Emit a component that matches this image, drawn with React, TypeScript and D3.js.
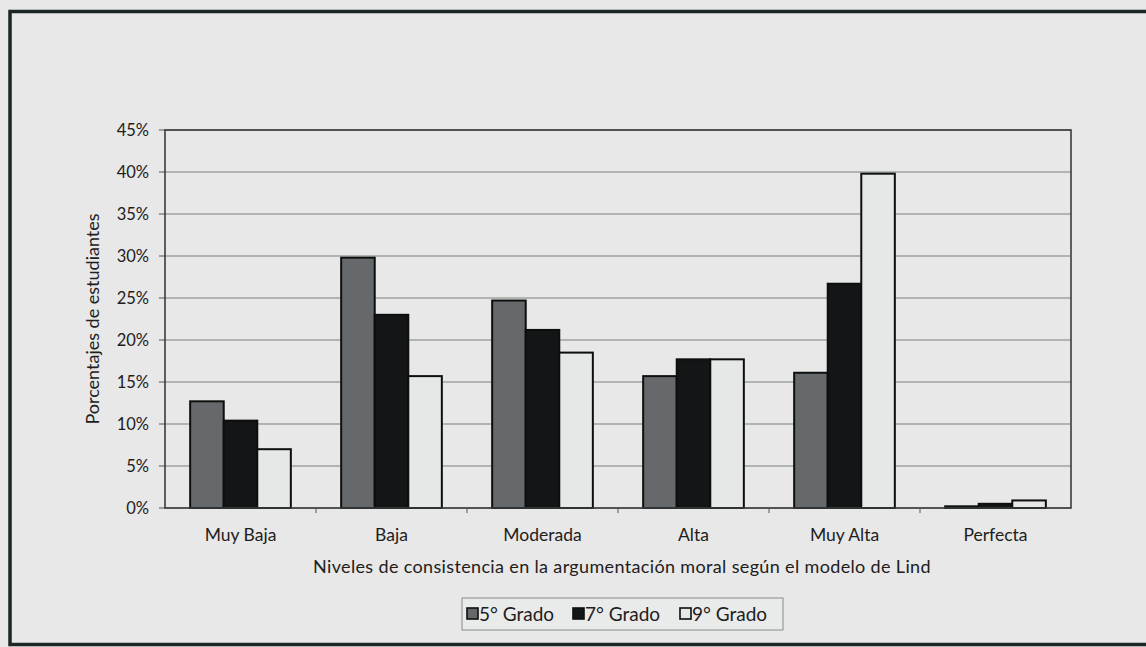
import React from "react";
import * as d3 from "d3";

// Niveles de consistencia (Lind) por grado, en porcentaje de estudiantes
const categories = ["Muy Baja", "Baja", "Moderada", "Alta", "Muy Alta", "Perfecta"];
const grado5 = [12.7, 29.8, 24.7, 15.7, 16.1, 0.2];
const grado7 = [10.4, 23.0, 21.2, 17.7, 26.7, 0.5];
const grado9 = [7.0, 15.7, 18.5, 17.7, 39.8, 0.9];
const seriesNames = ["5° Grado", "7° Grado", "9° Grado"];
const yTicks = [0, 5, 10, 15, 20, 25, 30, 35, 40, 45];

const W = 1146;
const H = 647;
const FONT = "Lato, 'Open Sans', sans-serif";
const INK = "#1e2020";
const fills = ["#66696b", "#131516", "#e6e8e8"];

export default function App() {
  const plot = { left: 165, right: 1071, top: 130, bottom: 508 };
  const series = [grado5, grado7, grado9];

  const x = d3
    .scaleBand<string>()
    .domain(categories)
    .range([plot.left, plot.right])
    .paddingInner(1 / 3)
    .paddingOuter(1 / 6);
  const xs = d3
    .scaleBand<string>()
    .domain(seriesNames)
    .range([0, x.bandwidth()]);
  const y = d3.scaleLinear().domain([0, 45]).range([plot.bottom, plot.top]);
  const step = x.step();

  const legend = { x: 462, y: 598, w: 321, h: 32 };
  const legendX = [467, 573, 680];

  return (
    <svg
      width={W}
      height={H}
      style={{ position: "absolute", left: 0, top: 0, background: "#e7e8e7" }}
      fontFamily={FONT}
    >
      <rect x={0} y={0} width={W} height={H} fill="#e7e8e7" />
      {/* marco de la figura */}
      <rect
        x={10}
        y={11.5}
        width={W + 20}
        height={633}
        fill="none"
        stroke="#1b2626"
        strokeWidth={3.5}
      />

      {/* líneas de división */}
      {yTicks.map((t) => (
        <g key={t}>
          <line
            x1={plot.left}
            x2={plot.right}
            y1={y(t)}
            y2={y(t)}
            stroke="#7e8080"
            strokeWidth={1.2}
          />
          <line
            x1={plot.left - 6}
            x2={plot.left}
            y1={y(t)}
            y2={y(t)}
            stroke="#555"
            strokeWidth={1}
          />
          <text
            x={plot.left - 16}
            y={y(t)}
            dy="0.35em"
            textAnchor="end"
            fontSize={16.5}
            fill={INK}
          >
            {t}%
          </text>
        </g>
      ))}

      {/* barras */}
      {categories.map((c, i) => (
        <g key={c} transform={`translate(${x(c)},0)`}>
          {series.map((vals, s) => (
            <rect
              key={s}
              x={xs(seriesNames[s])}
              y={y(vals[i])}
              width={xs.bandwidth()}
              height={y(0) - y(vals[i])}
              fill={fills[s]}
              stroke="#0d0f0f"
              strokeWidth={2}
            />
          ))}
        </g>
      ))}

      {/* área de trazado */}
      <rect
        x={plot.left}
        y={plot.top}
        width={plot.right - plot.left}
        height={plot.bottom - plot.top}
        fill="none"
        stroke="#3a3c3c"
        strokeWidth={1.6}
      />

      {/* marcas del eje de categorías */}
      {categories.slice(1).map((c) => (
        <line
          key={c}
          x1={(x(c) as number) - (step - x.bandwidth()) / 2}
          x2={(x(c) as number) - (step - x.bandwidth()) / 2}
          y1={plot.bottom}
          y2={plot.bottom + 5}
          stroke="#555"
          strokeWidth={1}
        />
      ))}

      {categories.map((c) => (
        <text
          key={c}
          x={(x(c) as number) + x.bandwidth() / 2}
          y={541}
          textAnchor="middle"
          fontSize={17.5}
          fill={INK}
        >
          {c}
        </text>
      ))}

      <text
        x={(plot.left + plot.right) / 2 + 4}
        y={573}
        textAnchor="middle"
        fontSize={18}
        letterSpacing={0.35}
        fill={INK}
      >
        Niveles de consistencia en la argumentación moral según el modelo de Lind
      </text>

      <text
        transform={`translate(99,${(plot.top + plot.bottom) / 2}) rotate(-90)`}
        textAnchor="middle"
        fontSize={18}
        fill={INK}
      >
        Porcentajes de estudiantes
      </text>

      {/* leyenda */}
      <rect
        x={legend.x}
        y={legend.y}
        width={legend.w}
        height={legend.h}
        fill="#e9eaea"
        stroke="#8a8c8c"
        strokeWidth={1}
      />
      {seriesNames.map((name, s) => (
        <g key={name}>
          <rect
            x={legendX[s]}
            y={legend.y + 10}
            width={11}
            height={11}
            fill={fills[s]}
            stroke="#0d0f0f"
            strokeWidth={1.6}
          />
          <text
            x={legendX[s] + 12}
            y={legend.y + 16}
            dy="0.35em"
            fontSize={19}
            fill={INK}
          >
            {name}
          </text>
        </g>
      ))}
    </svg>
  );
}
